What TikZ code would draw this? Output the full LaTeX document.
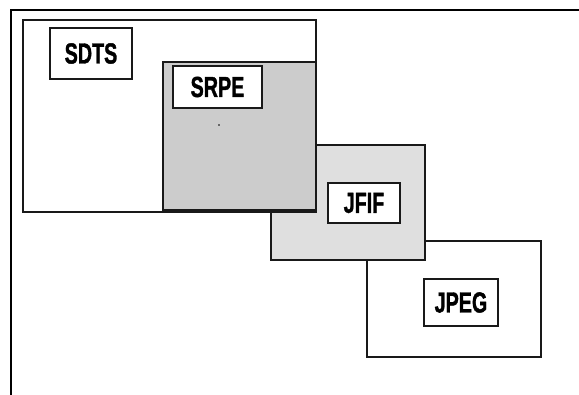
\documentclass[tikz,border=0pt]{standalone}
\usepackage{fontspec}
\setmainfont{Liberation Sans}
\newfontfamily\heavyfont[BoldFont={Liberation Sans Bold}, BoldFeatures={FakeBold=1.5}]{Liberation Sans}
\definecolor{srpegray}{HTML}{CCCCCC}
\definecolor{jfifgray}{HTML}{DFDFDF}
\tikzset{
  bigbox/.style={draw=black!90, line width=2.6pt, anchor=center, inner sep=0pt, outer sep=0pt},
  labelbox/.style={draw=black!90, line width=2.2pt, fill=white, anchor=center, inner sep=0pt, outer sep=0pt,
    font=\heavyfont\fontsize{29}{31}\selectfont\bfseries},
}
\newcommand{\lbl}[1]{\scalebox{0.68}[1]{#1}}
\begin{document}
\begin{tikzpicture}[x=1pt,y=-1pt]
\useasboundingbox (0,0) rectangle (579,395);
\draw[line width=2.2pt] (11,395) -- (11,10) -- (579,10);
% JPEG
\node[bigbox, fill=white, minimum width=174pt, minimum height=116pt] (jpeg) at (454,299) {};
\node[labelbox, minimum width=74pt, minimum height=47pt] (jpeglbl) at (461,302.5) {\lbl{JPEG}};
% JFIF
\node[bigbox, fill=jfifgray, minimum width=154pt, minimum height=115pt] (jfif) at (348,202.5) {};
\node[labelbox, minimum width=72pt, minimum height=40pt] (jfiflbl) at (364,203) {\lbl{JFIF}};
% SDTS
\node[bigbox, fill=white, minimum width=293pt, minimum height=192pt] (sdts) at (169.5,116) {};
\node[labelbox, minimum width=82pt, minimum height=51pt] (sdtslbl) at (91,53.5) {\lbl{SDTS}};
% SRPE
\node[bigbox, fill=srpegray, minimum width=153pt, minimum height=148pt] (srpe) at (239.5,136) {};
\node[labelbox, minimum width=89pt, minimum height=42pt] (srpelbl) at (217.5,87) {\lbl{SRPE}};
\fill (219,125) circle (0.8pt);
\end{tikzpicture}
\end{document}
